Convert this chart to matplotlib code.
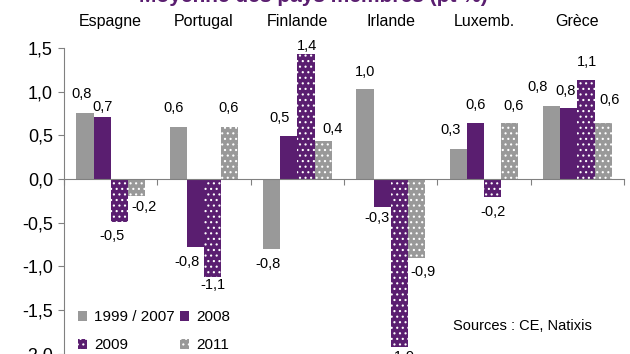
import matplotlib
matplotlib.use("Agg")
import matplotlib.pyplot as plt
import numpy as np
from matplotlib.patches import Patch

plt.rcParams['font.family'] = ['Liberation Sans', 'DejaVu Sans']
plt.rcParams['hatch.linewidth'] = 0.8

# Data
countries = ["Espagne", "Portugal", "Finlande", "Irlande", "Luxemb.", "Grèce"]
series_names = ["1999 / 2007", "2008", "2009", "2011"]
v_1999_2007 = [0.76, 0.59, -0.80, 1.03, 0.34, 0.84]
v_2008 = [0.71, -0.78, 0.49, -0.32, 0.64, 0.81]
v_2009 = [-0.49, -1.12, 1.43, -1.92, -0.21, 1.13]
v_2011 = [-0.19, 0.59, 0.44, -0.91, 0.64, 0.64]
yticks = [-2.0, -1.5, -1.0, -0.5, 0.0, 0.5, 1.0, 1.5]

# Styling
GREY = "#999999"
PURPLE = "#5A1E70"
series_values = [v_1999_2007, v_2008, v_2009, v_2011]
series_colors = [GREY, PURPLE, PURPLE, GREY]
series_hatch = [None, None, "...", "..."]

# Label nudges (pixels) per country, per series: (dx, dy)
label_nudge = [
    [(-3, 19), (0, 10), (-7, -14), (8, -11)],
    [(-5, 19), (-8, -15), (0, -8), (-1, 19)],
    [(-4, -15), (-9, 18), (1, 8), (9, 12)],
    [(0, 17), (-5, -11), (3, -10), (7, -14)],
    [(-8, 19), (0, 18), (0, -15), (4, 17)],
    [(-14, 19), (-3, 17), (1, 18), (6, 23)],
]

fig = plt.figure(figsize=(6.3, 3.54), dpi=100)
ax = fig.add_axes([0.1016, 0.001, 0.889, 0.8636])

n = len(countries)
centers = np.arange(n) + 0.5
bar_w = 0.184

for j, (vals, col, h) in enumerate(zip(series_values, series_colors, series_hatch)):
    xs = centers + (j - 1.5) * bar_w
    if h:
        ax.bar(xs, vals, width=bar_w, color=col, hatch=h, edgecolor="white",
               linewidth=0, zorder=2)
    else:
        ax.bar(xs, vals, width=bar_w, color=col, linewidth=0, zorder=2)
    for i, (x, v) in enumerate(zip(xs, vals)):
        dx, dy = label_nudge[i][j]
        ax.annotate(f"{v:.1f}".replace(".", ","), xy=(x, v), xytext=(dx, dy),
                    textcoords="offset pixels", ha="center", va="center",
                    fontsize=10.5, color="black")

ax.set_xlim(0, n)
ax.set_ylim(-2.0, 1.5)
ax.set_yticks(yticks)
ax.set_yticklabels([f"{t:.1f}".replace(".", ",") for t in yticks], fontsize=13)
ax.set_xticks(np.arange(n + 1))
ax.set_xticklabels([])

for s in ["top", "right"]:
    ax.spines[s].set_visible(False)
ax.spines["bottom"].set_position(("data", 0))
ax.spines["bottom"].set_color("#808080")
ax.spines["left"].set_color("#808080")
ax.tick_params(axis="x", direction="out", length=4.5, color="#808080")
ax.tick_params(axis="y", direction="out", length=4, color="#808080", pad=4)

# Country names above the plot
for c, name in zip(centers, countries):
    ax.text(c, 1 + (48 - 26) / (0.8636 * 354), name, transform=ax.get_xaxis_transform(),
            ha="center", va="baseline", fontsize=11.5)

# Title (top of figure)
fig.text(0.498, 1 - 2.5 / 354, "Moyenne des pays membres (pt %)", ha="center",
         va="baseline", color=PURPLE, fontweight="bold", fontsize=15)

# Legend filled row by row: 1999/2007, 2008 / 2009, 2011
order = [0, 2, 1, 3]
handles = [Patch(facecolor=series_colors[k], hatch=series_hatch[k],
                 edgecolor="white" if series_hatch[k] else series_colors[k], linewidth=0)
           for k in order]
ax.legend(handles, [series_names[k] for k in order], loc="lower left",
          bbox_to_anchor=(0.0, -0.04), ncol=2, frameon=False, fontsize=11,
          handlelength=0.6, handleheight=0.6, handletextpad=0.45,
          columnspacing=0.35, labelspacing=0.9)

ax.text(0.818, 0.09, "Sources : CE, Natixis", transform=ax.transAxes,
        ha="center", va="center", fontsize=10.5)

fig.savefig("out.png", dpi=100)
